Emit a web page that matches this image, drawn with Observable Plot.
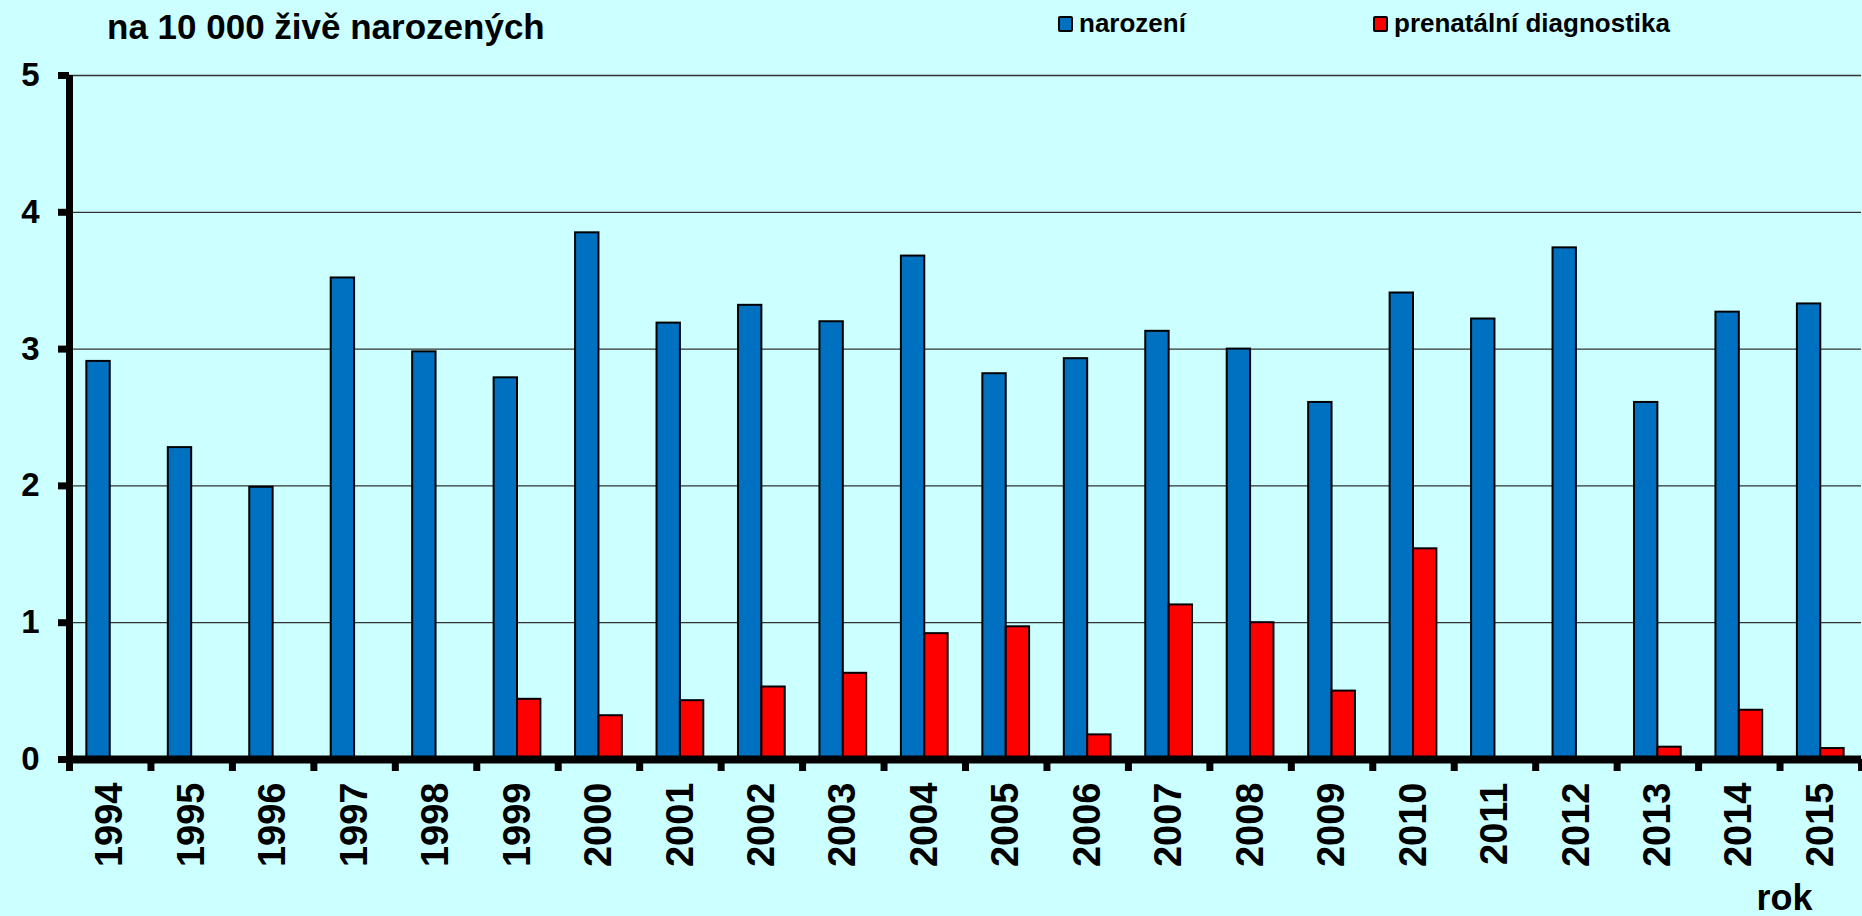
<!DOCTYPE html>
<html>
<head>
<meta charset="utf-8">
<script src="https://cdn.jsdelivr.net/npm/d3@7"></script>
<script src="https://cdn.jsdelivr.net/npm/@observablehq/plot@0.6"></script>
<style>
  html, body { margin: 0; padding: 0; background: #ccffff; overflow: hidden; }
  body { width: 1862px; height: 916px; font-family: "Liberation Sans", Arial, sans-serif; }
  #header { position: relative; height: 50px; }
  .t { position: absolute; font-weight: bold; line-height: 1; color: #000; white-space: nowrap; }
  #title { left: 107px; top: 9px; font-size: 35px; }
  .sw { position: absolute; top: 16px; width: 11px; height: 12px; border: 2px solid #000; border-radius: 2px; }
  .lg { top: 10px; font-size: 26px; }
  #chart svg { display: block; overflow: visible; }
</style>
</head>
<body>
<div id="header">
  <div id="title" class="t">na 10 000 živě narozených</div>
  <div class="sw" style="left:1058px;background:#0070c0"></div>
  <div class="t lg" style="left:1079px">narození</div>
  <div class="sw" style="left:1373px;background:#ff0000"></div>
  <div class="t lg" style="left:1394px">prenatální diagnostika</div>
</div>
<div id="chart"></div>
<script>
// ---- data ----
const years = [1994,1995,1996,1997,1998,1999,2000,2001,2002,2003,2004,2005,2006,2007,2008,2009,2010,2011,2012,2013,2014,2015];
const narozeni = [2.91,2.28,1.99,3.52,2.98,2.79,3.85,3.19,3.32,3.20,3.68,2.82,2.93,3.13,3.00,2.61,3.41,3.22,3.74,2.61,3.27,3.33];
const prenatalni = [0,0,0,0,0,0.44,0.32,0.43,0.53,0.63,0.92,0.97,0.18,1.13,1.00,0.50,1.54,0,0,0.09,0.36,0.08];
const yTicks = [0,1,2,3,4,5];
const seriesNames = ["narození", "prenatální diagnostika"];
const seriesColors = ["#0070c0", "#ff0000"];

// ---- layout constants ----
const barW = 0.287; // width of one bar as a fraction of a year band
const font = "Liberation Sans, Arial, sans-serif";

const blue = years.map((year, i) => ({year, value: narozeni[i]}));
const red = years.map((year, i) => ({year, value: prenatalni[i]})).filter(d => d.value > 0);
const xDomain = [years[0] - 0.5, years[years.length - 1] + 0.5];
const boundaries = d3.range(xDomain[0], xDomain[1] + 0.01, 1);

const chart = Plot.plot({
  width: 1862,
  height: 866,
  marginLeft: 69,
  marginRight: 1,
  marginTop: 25,
  marginBottom: 157,
  style: {background: "transparent", fontFamily: font, color: "#000"},
  x: {domain: xDomain, axis: null},
  y: {domain: [0, 5], axis: null},
  marks: [
    Plot.ruleY(yTicks.filter(d => d > 0), {stroke: "#333", strokeWidth: 1.3}),
    Plot.rectY(blue, {x1: d => d.year - barW, x2: d => d.year, y: "value", fill: seriesColors[0], stroke: "#000", strokeWidth: 2}),
    Plot.rectY(red, {x1: d => d.year, x2: d => d.year + barW, y: "value", fill: seriesColors[1], stroke: "#000", strokeWidth: 2}),
    Plot.ruleX([xDomain[0]], {stroke: "#000", strokeWidth: 7}),
    Plot.ruleY([0], {stroke: "#000", strokeWidth: 8}),
    Plot.axisY(yTicks, {tickSize: 11, tickPadding: 19, strokeWidth: 7, fontSize: 33, fontWeight: "bold", tickFormat: d => String(d), label: null}),
    Plot.axisX(boundaries, {tickSize: 12, strokeWidth: 7, tickFormat: () => "", label: null}),
    Plot.axisX(years, {tickSize: 0, tickPadding: 23, tickRotate: -90, fontSize: 38, fontWeight: "bold", tickFormat: d => String(d), label: null}),
    Plot.text(["rok"], {frameAnchor: "bottom-right", textAnchor: "end", lineAnchor: "bottom", dx: -49, dy: 150, fontSize: 36, fontWeight: "bold"})
  ]
});
document.getElementById("chart").appendChild(chart);
</script>
</body>
</html>
